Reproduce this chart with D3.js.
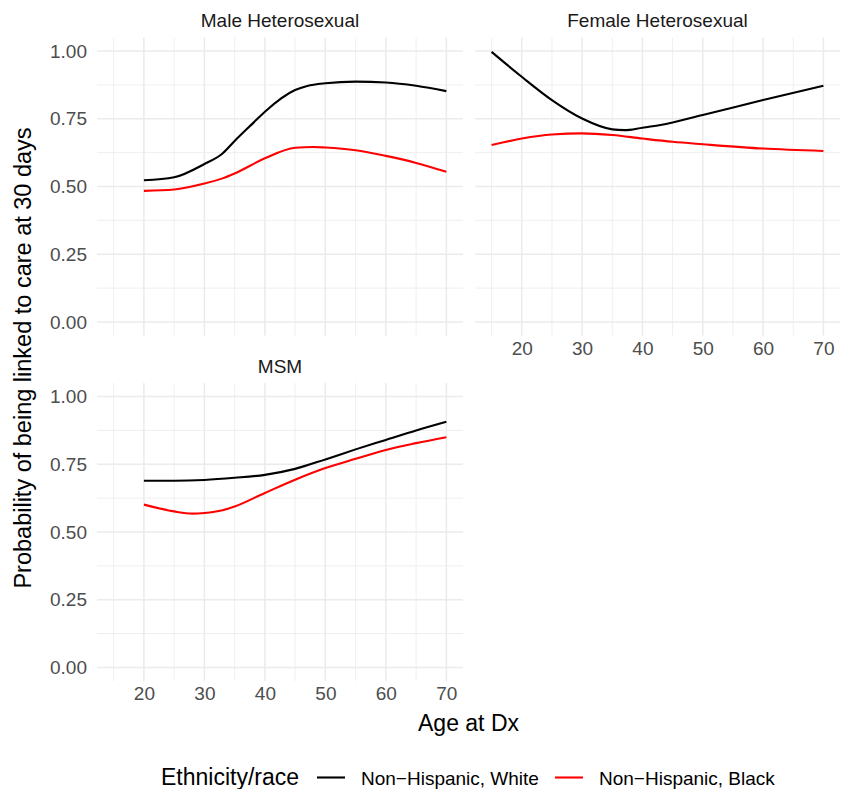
<!DOCTYPE html>
<html lang="en">
<head>
<meta charset="UTF-8">
<title>Linkage to care</title>
<script src="https://d3js.org/d3.v7.min.js"></script>
<style>
  body { margin: 0; background: #fff; }
  svg { display: block; font-family: "Liberation Sans", Arial, sans-serif; }
</style>
</head>
<body>
<script>
// DATA
const groups = ["Non\u2212Hispanic, White", "Non\u2212Hispanic, Black"];
const colors = ["#000000", "#FF0000"];

const maleAge   = [20, 25, 30, 33, 35, 38, 40, 45, 47, 50, 55, 60, 65, 70];
const maleWhite = [0.523, 0.534, 0.583, 0.622, 0.668, 0.733, 0.776, 0.856, 0.871, 0.881, 0.887, 0.884, 0.872, 0.852];
const maleBlackAge = [20, 25, 30, 33, 35, 40, 45, 48, 50, 55, 60, 65, 70];
const maleBlack = [0.484, 0.489, 0.511, 0.530, 0.548, 0.604, 0.643, 0.646, 0.644, 0.634, 0.613, 0.587, 0.554];

const femAge   = [15, 20, 25, 30, 35, 37, 40, 43, 50, 60, 70];
const femWhite = [0.997, 0.905, 0.819, 0.751, 0.711, 0.708, 0.717, 0.727, 0.764, 0.819, 0.872];
const femBlackAge = [15, 20, 25, 30, 35, 40, 45, 50, 60, 70];
const femBlack = [0.653, 0.677, 0.692, 0.696, 0.690, 0.677, 0.665, 0.656, 0.640, 0.631];

const msmAge   = [20, 25, 30, 35, 40, 45, 50, 55, 60, 65, 70];
const msmWhite = [0.689, 0.689, 0.692, 0.700, 0.711, 0.733, 0.768, 0.805, 0.840, 0.875, 0.907];
const msmBlackAge = [20, 25, 28, 30, 33, 35, 40, 45, 50, 55, 60, 65, 70];
const msmBlack = [0.601, 0.576, 0.568, 0.570, 0.580, 0.594, 0.644, 0.693, 0.736, 0.770, 0.803, 0.828, 0.850];

const xTicks = [20, 30, 40, 50, 60, 70];
const xMinor = [15, 25, 35, 45, 55, 65];
const yTicks = [0, 0.25, 0.5, 0.75, 1];
const yMinor = [0.125, 0.375, 0.625, 0.875];

const facets = [
  { title: "Male Heterosexual", col: 0, row: 0, xLabels: false, yLabels: true,
    series: [[maleAge, maleWhite], [maleBlackAge, maleBlack]] },
  { title: "Female Heterosexual", col: 1, row: 0, xLabels: true, yLabels: false,
    series: [[femAge, femWhite], [femBlackAge, femBlack]] },
  { title: "MSM", col: 0, row: 1, xLabels: true, yLabels: true,
    series: [[msmAge, msmWhite], [msmBlackAge, msmBlack]] }
];

// LAYOUT
const W = 844, H = 789;
const cols = [[97, 463], [475, 840]];
const rows = [[37.5, 335.5], [383, 681]];
const small = 19, big = 23;

const svg = d3.select("body").append("svg").attr("width", W).attr("height", H);

facets.forEach(f => {
  const x = d3.scaleLinear().domain([12.25, 72.75]).range(cols[f.col]);
  const y = d3.scaleLinear().domain([-0.05, 1.05]).range([rows[f.row][1], rows[f.row][0]]);
  const g = svg.append("g");

  // grid
  g.selectAll(".ymin").data(yMinor).enter().append("line")
    .attr("x1", x.range()[0]).attr("x2", x.range()[1])
    .attr("y1", d => y(d)).attr("y2", d => y(d))
    .attr("stroke", "#EBEBEB").attr("stroke-width", 0.8);
  g.selectAll(".xmin").data(xMinor).enter().append("line")
    .attr("y1", y.range()[0]).attr("y2", y.range()[1])
    .attr("x1", d => x(d)).attr("x2", d => x(d))
    .attr("stroke", "#EBEBEB").attr("stroke-width", 0.8);
  g.selectAll(".ymaj").data(yTicks).enter().append("line")
    .attr("x1", x.range()[0]).attr("x2", x.range()[1])
    .attr("y1", d => y(d)).attr("y2", d => y(d))
    .attr("stroke", "#EBEBEB").attr("stroke-width", 1.5);
  g.selectAll(".xmaj").data(xTicks).enter().append("line")
    .attr("y1", y.range()[0]).attr("y2", y.range()[1])
    .attr("x1", d => x(d)).attr("x2", d => x(d))
    .attr("stroke", "#EBEBEB").attr("stroke-width", 1.5);

  // axes
  if (f.yLabels) {
    const ya = g.append("g").attr("transform", `translate(${x.range()[0]},0)`)
      .call(d3.axisLeft(y).tickValues(yTicks).tickFormat(d3.format(".2f")).tickSize(0).tickPadding(10));
    ya.select(".domain").remove();
    ya.selectAll("text").attr("fill", "#4D4D4D").style("font-size", small + "px")
      .style("font-family", "Liberation Sans, Arial, sans-serif");
  }
  if (f.xLabels) {
    const xa = g.append("g").attr("transform", `translate(0,${y.range()[0]})`)
      .call(d3.axisBottom(x).tickValues(xTicks).tickSize(0).tickPadding(6));
    xa.select(".domain").remove();
    xa.selectAll("text").attr("fill", "#4D4D4D").style("font-size", small + "px")
      .style("font-family", "Liberation Sans, Arial, sans-serif");
  }

  // strip
  g.append("text").attr("x", (x.range()[0] + x.range()[1]) / 2).attr("y", rows[f.row][0] - 10.5)
    .attr("text-anchor", "middle").attr("fill", "#1A1A1A").style("font-size", small + "px")
    .text(f.title);

  // lines
  const line = d3.line().x(d => x(d[0])).y(d => y(d[1])).curve(d3.curveMonotoneX);
  f.series.forEach((s, i) => {
    const pts = s[0].map((a, j) => [a, s[1][j]]);
    g.append("path").datum(pts).attr("d", line)
      .attr("fill", "none").attr("stroke", colors[i]).attr("stroke-width", 2.1)
      .attr("stroke-linejoin", "round");
  });
});

// axis titles
svg.append("text").attr("x", 468.5).attr("y", 731).attr("text-anchor", "middle")
  .style("font-size", big + "px").text("Age at Dx");
svg.append("text").attr("transform", "translate(31,358) rotate(-90)").attr("text-anchor", "middle")
  .style("font-size", "23.5px").text("Probability of being linked to care at 30 days");

// legend
const leg = svg.append("g");
leg.append("text").attr("x", 161).attr("y", 785).style("font-size", big + "px").text("Ethnicity/race");
const keyX = [317, 555], labX = [361, 599];
groups.forEach((gname, i) => {
  leg.append("line").attr("x1", keyX[i]).attr("x2", keyX[i] + 28).attr("y1", 777.5).attr("y2", 777.5)
    .attr("stroke", colors[i]).attr("stroke-width", 2.1);
  leg.append("text").attr("x", labX[i]).attr("y", 784.5).style("font-size", small + "px").text(gname);
});
</script>
</body>
</html>
